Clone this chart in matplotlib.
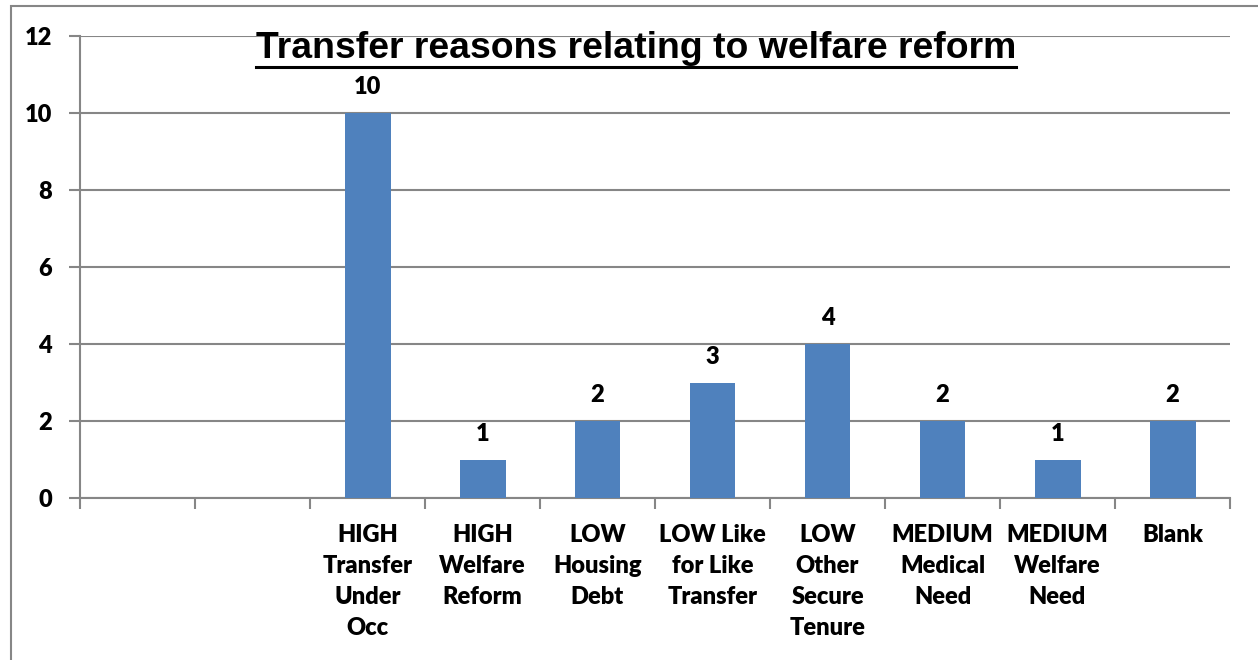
import matplotlib.pyplot as plt
from matplotlib.lines import Line2D
from matplotlib.patches import Rectangle

categories = ['', '', 'HIGH\nTransfer\nUnder\nOcc', 'HIGH\nWelfare\nReform', 'LOW\nHousing\nDebt',
              'LOW Like\nfor Like\nTransfer', 'LOW\nOther\nSecure\nTenure', 'MEDIUM\nMedical\nNeed',
              'MEDIUM\nWelfare\nNeed', 'Blank']
values = [None, None, 10, 1, 2, 3, 4, 2, 1, 2]
yticks = [0, 2, 4, 6, 8, 10, 12]

grey = '#868686'
lab_font = 'Lato'
lab_w = 'heavy'

fig = plt.figure(figsize=(12.58, 6.60), dpi=100)
fig.patches.append(Rectangle((11 / 1258, -0.1), 1.2, 1 - 6 / 660 + 0.1, transform=fig.transFigure,
                             fill=False, edgecolor=grey, linewidth=1.5))
ax = fig.add_axes([80 / 1258, 1 - 498 / 660, (1230 - 80) / 1258, (498 - 36) / 660])

xs = [i for i, v in enumerate(values) if v is not None]
hs = [v for v in values if v is not None]
ax.bar(xs, hs, width=0.4, color='#4F81BD', zorder=3)
for x, h in zip(xs, hs):
    ax.annotate(str(h), (x, h), xytext=(0, 10.5), textcoords='offset points', ha='center', va='bottom',
                fontsize=17, fontweight=lab_w, family=lab_font)

ax.set_xlim(-0.5, len(categories) - 0.5)
ax.set_ylim(0, 12)
ax.set_yticks(yticks)
ax.set_yticklabels([str(t) for t in yticks], fontsize=17, fontweight=lab_w, family=lab_font)
ax.yaxis.grid(True, color=grey, linewidth=1.5, zorder=0)
ax.set_axisbelow(True)
ax.tick_params(axis='y', length=8, width=1.5, color=grey, pad=12)

ax.set_xticks([i - 0.5 for i in range(len(categories) + 1)], minor=False)
ax.set_xticklabels([])
ax.set_xticks(range(len(categories)), minor=True)
ax.set_xticklabels(categories, minor=True, fontsize=17, fontweight=lab_w, family=lab_font,
                   linespacing=1.5, va='top')
ax.tick_params(axis='x', which='major', length=8, width=1.5, color=grey)
ax.tick_params(axis='x', which='minor', length=0, pad=19)

for s in ['top', 'right']:
    ax.spines[s].set_visible(False)
for s in ['left', 'bottom']:
    ax.spines[s].set_color(grey)
    ax.spines[s].set_linewidth(1.5)

title = fig.text(0.5055, 1 - 49 / 660, 'Transfer reasons relating to welfare reform', ha='center', va='center',
                 fontsize=26.9, fontweight='bold', family='Liberation Sans')
fig.canvas.draw()
bb = title.get_window_extent().transformed(fig.transFigure.inverted())
fig.add_artist(Line2D([bb.x0, bb.x1], [1 - 67 / 660] * 2, transform=fig.transFigure, color='black',
                      linewidth=2.2))

fig.savefig('out.png', dpi=100)
